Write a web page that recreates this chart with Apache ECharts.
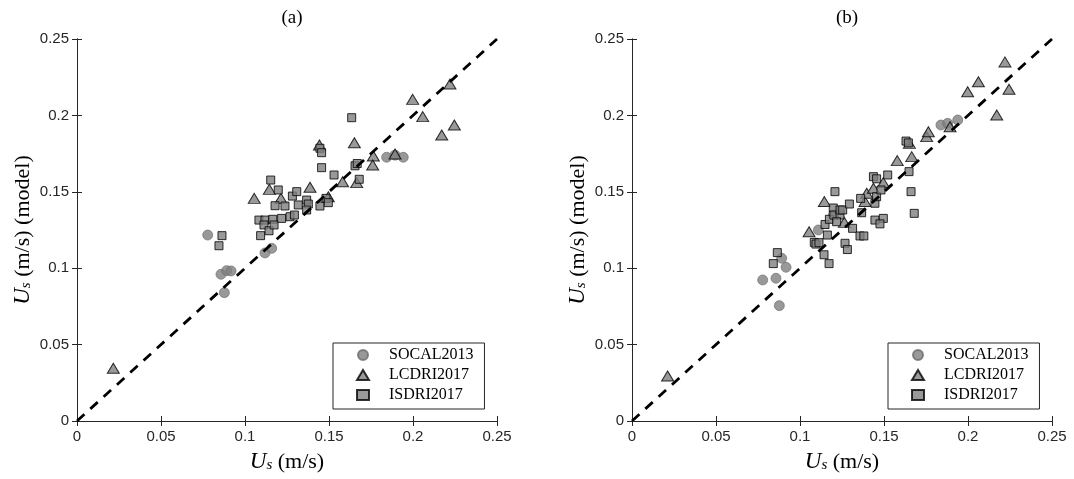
<!DOCTYPE html>
<html>
<head>
<meta charset="utf-8">
<title>Surface velocity comparison</title>
<script src="https://cdn.jsdelivr.net/npm/echarts@6/dist/echarts.min.js"></script>
<style>
  html, body { margin: 0; padding: 0; background: #fff; }
  #chart { width: 1074px; height: 479px; }
</style>
</head>
<body>
<div id="chart"></div>
<script>
// Observed vs modelled surface velocity U_s (m/s), [observed, model]
// Panel (a)
const socalA = [[0.0778,0.1217],[0.0857,0.0960],[0.0891,0.0984],[0.0917,0.0982],[0.0877,0.0840],
  [0.1119,0.1100],[0.1159,0.1130],[0.1843,0.1726],[0.1893,0.1740],[0.1942,0.1726]];
const lcdriA = [[0.0216,0.0345],[0.1055,0.1457],[0.1145,0.1516],[0.1214,0.1457],[0.1387,0.1530],
  [0.1443,0.1806],[0.1496,0.1468],[0.1581,0.1566],[0.1651,0.1821],[0.1665,0.1560],[0.1764,0.1734],
  [0.1760,0.1675],[0.1893,0.1747],[0.1998,0.2105],[0.2058,0.1992],[0.2171,0.1872],[0.2220,0.2205],
  [0.2246,0.1937]];
const isdriA = [[0.0845,0.1147],[0.0863,0.1213],[0.1093,0.1213],[0.1083,0.1315],[0.1119,0.1315],
  [0.1113,0.1283],[0.1143,0.1245],[0.1165,0.1320],[0.1173,0.1283],[0.1153,0.1577],[0.1198,0.1512],
  [0.1179,0.1409],[0.1238,0.1407],[0.1218,0.1326],[0.1268,0.1337],[0.1294,0.1348],[0.1282,0.1472],
  [0.1308,0.1501],[0.1317,0.1414],[0.1367,0.1446],[0.1377,0.1420],[0.1367,0.1381],[0.1446,0.1407],
  [0.1482,0.1457],[0.1496,0.1429],[0.1446,0.1785],[0.1456,0.1756],[0.1456,0.1658],[0.1530,0.1610],
  [0.1635,0.1985],[0.1655,0.1670],[0.1668,0.1685],[0.1680,0.1582]];
// Panel (b)
const socalB = [[0.0778,0.0923],[0.0857,0.0934],[0.0891,0.1065],[0.0917,0.1006],[0.0877,0.0755],
  [0.1109,0.1250],[0.1198,0.1348],[0.1839,0.1937],[0.1879,0.1948],[0.1939,0.1970]];
const lcdriB = [[0.0212,0.0295],[0.1054,0.1239],[0.1145,0.1436],[0.1264,0.1300],[0.1387,0.1436],
  [0.1397,0.1490],[0.1437,0.1523],[0.1496,0.1560],[0.1579,0.1704],[0.1665,0.1730],[0.1651,0.1817],
  [0.1754,0.1861],[0.1764,0.1893],[0.1893,0.1926],[0.1998,0.2155],[0.2062,0.2220],[0.2171,0.2003],
  [0.2220,0.2350],[0.2244,0.2171]];
const isdriB = [[0.0841,0.1030],[0.0865,0.1102],[0.1085,0.1169],[0.1095,0.1158],[0.1113,0.1167],
  [0.1143,0.1088],[0.1173,0.1030],[0.1163,0.1217],[0.1149,0.1286],[0.1175,0.1320],[0.1198,0.1394],
  [0.1208,0.1501],[0.1202,0.1348],[0.1238,0.1348],[0.1218,0.1304],[0.1238,0.1381],[0.1254,0.1381],
  [0.1294,0.1420],[0.1313,0.1261],[0.1357,0.1211],[0.1380,0.1211],[0.1268,0.1163],[0.1282,0.1122],
  [0.1361,0.1457],[0.1367,0.1363],[0.1446,0.1425],[0.1456,0.1468],[0.1482,0.1512],[0.1446,0.1315],
  [0.1496,0.1326],[0.1476,0.1290],[0.1437,0.1599],[0.1456,0.1585],[0.1522,0.1610],[0.1631,0.1832],
  [0.1645,0.1820],[0.1649,0.1632],[0.1661,0.1501],[0.1680,0.1359]];
// 1:1 reference line
const oneToOne = [[0,0],[0.25,0.25]];
const panelTitles = ['(a)', '(b)'];
const seriesNames = ['SOCAL2013', 'LCDRI2017', 'ISDRI2017'];

const AXIS = '#262626';
const FILL = '#808080';
const SERIF = 'Liberation Serif, DejaVu Serif, serif';
const SANS = 'Liberation Sans, Arial, sans-serif';

const grids = [
  { left: 77, top: 39, width: 420, height: 382, outerBoundsMode: 'none', containLabel: false },
  { left: 632, top: 39, width: 420, height: 382, outerBoundsMode: 'none', containLabel: false }
];

const titleRich = {
  u: { fontFamily: SERIF, fontStyle: 'italic', fontSize: 23, lineHeight: 28, verticalAlign: 'bottom', color: '#000' },
  s: { fontFamily: SERIF, fontStyle: 'italic', fontSize: 15, lineHeight: 15, verticalAlign: 'bottom', color: '#000' },
  t: { fontFamily: SERIF, fontSize: 22, lineHeight: 28, verticalAlign: 'bottom', color: '#000' }
};

function valueAxisBase() {
  return {
    type: 'value', min: 0, max: 0.25, interval: 0.05,
    splitLine: { show: false },
    axisLine: { show: true, lineStyle: { color: AXIS, width: 1 } },
    axisTick: { show: true, inside: true, length: 5, lineStyle: { color: AXIS } }
  };
}

const xAxes = [], yAxes = [];
grids.forEach((g, i) => {
  xAxes.push(Object.assign(valueAxisBase(), {
    gridIndex: i, position: 'bottom',
    axisLabel: { show: true, color: AXIS, fontFamily: SANS, fontSize: 15, margin: 8 },
    name: '{u|U}{s|s}{t| (m/s)}', nameLocation: 'middle', nameGap: 24,
    nameTextStyle: { rich: titleRich }
  }));
  xAxes.push(Object.assign(valueAxisBase(), {
    gridIndex: i, position: 'top', axisLabel: { show: false }
  }));
  yAxes.push(Object.assign(valueAxisBase(), {
    gridIndex: i, position: 'left',
    axisLabel: { show: true, color: AXIS, fontFamily: SANS, fontSize: 15, margin: 8 },
    name: '{u|U}{s|s}{t| (m/s) (model)}', nameLocation: 'middle', nameGap: 43,
    nameRotate: 90, nameTextStyle: { rich: titleRich }
  }));
  yAxes.push(Object.assign(valueAxisBase(), {
    gridIndex: i, position: 'right', axisLabel: { show: false }
  }));
});

const markerStyles = [
  { symbol: 'circle', symbolSize: 10, itemStyle: { color: FILL, borderColor: '#6a6a6a', borderWidth: 0.8 } },
  { symbol: 'triangle', symbolSize: [12, 10], itemStyle: { color: FILL, borderColor: '#000', borderWidth: 1 } },
  { symbol: 'rect', symbolSize: 8, itemStyle: { color: FILL, borderColor: '#000', borderWidth: 1 } }
];
const panelData = [[socalA, lcdriA, isdriA], [socalB, lcdriB, isdriB]];

const series = [];
panelData.forEach((sets, p) => {
  sets.forEach((d, k) => {
    series.push(Object.assign({
      type: 'scatter', name: seriesNames[k],
      xAxisIndex: p * 2, yAxisIndex: p * 2,
      data: d, z: 2 + k
    }, markerStyles[k]));
  });
  series.push({
    type: 'line', name: '1:1', xAxisIndex: p * 2, yAxisIndex: p * 2,
    data: oneToOne, symbol: 'none', z: 10,
    lineStyle: { color: '#000', width: 2.8, type: [10, 8] }
  });
});

function legendAt(left) {
  return {
    left: left, top: 343, orient: 'vertical', selectedMode: false,
    data: [
      { name: seriesNames[0], icon: 'circle' },
      { name: seriesNames[1], icon: 'triangle' },
      { name: seriesNames[2], icon: 'rect' }
    ],
    itemWidth: 12, itemHeight: 10, itemGap: 4,
    padding: [4, 11, 6, 23],
    borderColor: AXIS, borderWidth: 1, backgroundColor: '#fff',
    textStyle: { fontFamily: SERIF, fontSize: 16, color: '#000', padding: [0, 0, 0, 15] }
  };
}

const chart = echarts.init(document.getElementById('chart'), null, { renderer: 'canvas' });
chart.setOption({
  animation: false,
  backgroundColor: '#fff',
  title: panelTitles.map((t, i) => ({
    text: t, left: grids[i].left + grids[i].width / 2, top: 4, textAlign: 'center',
    textStyle: { fontFamily: SERIF, fontSize: 19, fontWeight: 'normal', color: '#000' }
  })),
  legend: [legendAt(333), legendAt(888)],
  grid: grids,
  xAxis: xAxes,
  yAxis: yAxes,
  series: series
});
</script>
</body>
</html>
